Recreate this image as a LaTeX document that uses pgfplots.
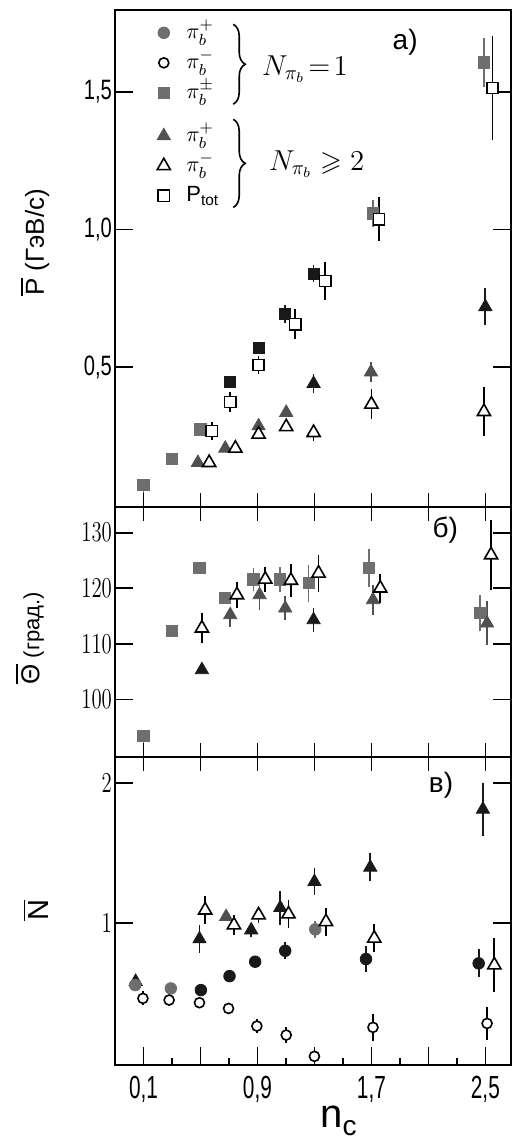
\documentclass[border=0pt]{standalone}
\usepackage{amssymb}
\usepackage{fontspec}
\setmainfont{Liberation Sans}
\usepackage{pgfplots}
\pgfplotsset{compat=1.18}
\usetikzlibrary{decorations.pathreplacing}
\definecolor{gm}{RGB}{110,110,110}
\definecolor{gd}{RGB}{80,80,80}
\definecolor{bk}{RGB}{25,25,25}
\newcommand\ovl[2][1.6pt]{\leavevmode\vbox{\hrule height 0.9pt\kern#1\hbox{#2}}}
\newcommand\fs[1]{\fontsize{#1}{#1}\selectfont}
\pgfplotsset{
  panel/.style={scale only axis, width=198pt, xmin=-0.1, xmax=2.68, clip=false,
    axis line style={line width=0.9pt}, tick style={line width=0.8pt, black},
    tick align=inside, major tick length=9pt, minor tick length=3.5pt,
    ytick pos=both, yticklabel pos=left,
    yticklabel style={font=\fs{14}, xscale=0.72, inner sep=2pt}},
  ghost/.style={scale only axis, width=198pt, height=20pt, xmin=-0.1, xmax=2.68, ymin=0, ymax=1,
    ytick=\empty, xtick={0.1,0.5,0.9,1.3,1.7,2.1,2.5}, xticklabels={}, xtick pos=bottom,
    tick align=center, major tick length=14pt, axis line style={draw=none},
    tick style={line width=0.8pt, black}},
  eb/.style={error bars/y dir=both, error bars/y explicit, error bars/error mark=none,
    error bars/error bar style={line width=0.9pt, solid}},
  sqG/.style={only marks, mark=square*, mark size=2.8pt, color=gm, forget plot, eb},
  sqB/.style={only marks, mark=square*, mark size=2.8pt, color=bk, forget plot, eb},
  sqO/.style={only marks, mark=square*, mark size=2.8pt, color=black, mark options={fill=white, line width=0.8pt}, forget plot, eb},
  trG/.style={only marks, mark=triangle*, mark size=3.8pt, color=gd, forget plot, eb},
  trB/.style={only marks, mark=triangle*, mark size=3.8pt, color=bk, forget plot, eb},
  trO/.style={only marks, mark=triangle*, mark size=3.8pt, color=black, mark options={fill=white, line width=0.8pt}, forget plot, eb},
  ciG/.style={only marks, mark=*, mark size=2.9pt, color=gm, forget plot, eb},
  ciB/.style={only marks, mark=*, mark size=2.9pt, color=bk, forget plot, eb},
  ciO/.style={only marks, mark=*, mark size=2.5pt, color=black, mark options={fill=white, line width=0.8pt}, forget plot, eb},
}
\begin{document}
\begin{tikzpicture}
% ---------------- panel a ----------------
\begin{axis}[panel, name=a, at={(0,0)}, anchor=north west, height=248.5pt,
  ymin=-0.008, ymax=1.797, ytick={0.5,1,1.5}, yticklabels={{0,5},{1,0},{1,5}}, xtick=\empty,
  legend cell align=left,
  legend style={at={(axis cs:0.12,1.77)}, anchor=north west, draw=none, fill=none,
    inner sep=0pt, row sep=0pt, font=\fs{11},
    nodes={inner sep=1pt, text height=9.5pt, text depth=3.5pt},
    /tikz/every odd column/.append style={column sep=7pt}}]
\addlegendimage{only marks, mark=*, mark size=2.9pt, gm}
\addlegendentry{$\pi^{+}_{b}$}
\addlegendimage{only marks, mark=*, mark size=2.5pt, black, mark options={fill=white, line width=0.8pt}}
\addlegendentry{$\pi^{-}_{b}$}
\addlegendimage{only marks, mark=square*, mark size=2.8pt, gm}
\addlegendentry{$\pi^{\pm}_{b}$}
\addlegendimage{empty legend}
\addlegendentry[text height=4.5pt, text depth=0pt]{}
\addlegendimage{only marks, mark=triangle*, mark size=3.8pt, gd}
\addlegendentry{$\pi^{+}_{b}$}
\addlegendimage{only marks, mark=triangle*, mark size=3.8pt, black, mark options={fill=white, line width=0.8pt}}
\addlegendentry{$\pi^{-}_{b}$}
\addlegendimage{only marks, mark=square*, mark size=2.8pt, black, mark options={fill=white, line width=0.8pt}}
\addlegendentry{P$_{\mathrm{tot}}$}

\addplot[sqG] coordinates {(0.1,0.072) += (0,0) -= (0,0.12) (0.3,0.168) +- (0,0) (0.5,0.274) +- (0,0)
  (1.71,1.058) +- (0,0.05) (2.488,1.607) +- (0,0.09)};
\addplot[sqB] coordinates {(0.709,0.447) +- (0,0) (0.908,0.571) +- (0,0.02) (1.095,0.692) +- (0,0.033) (1.294,0.84) +- (0,0.03)};
\addplot[trG] coordinates {(0.482,0.153) +- (0,0) (0.674,0.205) +- (0,0) (0.908,0.286) +- (0,0) (1.102,0.335) +- (0,0) (1.697,0.482) +- (0,0.036)};
\addplot[trB] coordinates {(1.294,0.44) +- (0,0.035) (2.5,0.719) +- (0,0.067)};
\addplot[trO] coordinates {(0.561,0.153) +- (0,0) (0.745,0.205) +- (0,0) (0.908,0.256) +- (0,0) (1.102,0.283) +- (0,0)
  (1.294,0.262) +- (0,0.03) (1.70,0.365) +- (0,0.055) (2.49,0.338) +- (0,0.088)};
\addplot[sqO] coordinates {(0.58,0.268) +- (0,0.033) (0.709,0.373) +- (0,0.036) (0.908,0.508) +- (0,0.033)
  (1.165,0.656) +- (0,0.055) (1.376,0.813) +- (0,0.07) (1.753,1.037) +- (0,0.08) (2.55,1.514) +- (0,0.19)};

\draw[decorate, decoration={brace, amplitude=6pt}, line width=0.8pt] (axis cs:0.73,1.745) -- (axis cs:0.73,1.455);
\draw[decorate, decoration={brace, amplitude=6pt}, line width=0.8pt] (axis cs:0.73,1.40) -- (axis cs:0.73,1.08);
\node[anchor=west, font=\fs{14}] at (axis cs:0.884,1.582) {$N_{\pi_b}\!=\!1$};
\node[anchor=west, font=\fs{14}] at (axis cs:0.933,1.236) {$N_{\pi_b}\geqslant 2$};
\node[font=\fs{14}] at (axis cs:1.937,1.68) {а)};
\node[rotate=90, font=\fs{13}] at (axis cs:-0.66,0.953) {\ovl{P} (ГэВ/с)};
\end{axis}
% ---------------- panel b ----------------
\begin{axis}[panel, name=b, at={(a.south west)}, anchor=north west, height=125pt,
  ymin=89.61, ymax=134.63, ytick={100,110,120,130}, xtick=\empty]
\addplot[sqG] coordinates {(0.1,93.4) += (0,0) -= (0,6) (0.3,112.3) +- (0,0) (0.493,123.7) +- (0,0) (0.669,118.3) +- (0,0)
  (0.872,121.6) +- (0,2.1) (1.06,121.6) +- (0,2.2) (1.259,120.9) +- (0,3.3) (1.685,123.6) +- (0,3.4) (2.465,115.5) +- (0,3.2)};
\addplot[trG] coordinates {(0.709,115.2) += (0,1) -= (0,2.2) (0.915,118.8) +- (0,2.7) (1.095,116.4) +- (0,2.2)
  (1.711,117.9) +- (0,2.7) (2.512,113.7) +- (0,4)};
\addplot[trB] coordinates {(0.51,105.3) +- (0,0) (1.294,114.3) +- (0,2.2)};
\addplot[trO] coordinates {(0.51,112.8) +- (0,2.7) (0.756,118.8) +- (0,2.4) (0.955,121.6) +- (0,2.2) (1.135,121.4) +- (0,3)
  (1.329,122.7) +- (0,3.3) (1.762,120) +- (0,2.6) (2.54,126) +- (0,6.3)};
\node[font=\fs{14}] at (axis cs:2.219,130.5) {б)};
\node[rotate=90] at (axis cs:-0.697,111.0) {\ovl{\fs{13}Θ}\fs{11} (град.)};
\end{axis}
% ---------------- panel c ----------------
\begin{axis}[panel, name=c, at={(b.south west)}, anchor=north west, height=154pt,
  ymin=-0.016, ymax=2.184, ytick={1,2},
  xtick={0.1,0.5,0.9,1.3,1.7,2.1,2.5}, xticklabels={{0,1},{},{0,9},{},{1,7},{},{2,5}},
  minor xtick={0.3,0.7,1.1,1.5,1.9,2.3}, xtick pos=bottom,
  xticklabel style={font=\fs{16}, xscale=0.65, yshift=-2pt}]
\addplot[trB] coordinates {(0.045,0.58) += (0,0.03) -= (0,0) (0.493,0.884) +- (0,0.1) (0.856,0.948) +- (0,0.05) (1.06,1.107) +- (0,0.12)
  (1.30,1.293) +- (0,0.095) (1.692,1.396) +- (0,0.1) (2.483,1.81) +- (0,0.19)};
\addplot[trG] coordinates {(0.68,1.043) +- (0,0)};
\addplot[ciG] coordinates {(0.042,0.555) +- (0,0) (0.292,0.531) +- (0,0) (1.306,0.953) +- (0,0.06)};
\addplot[ciB] coordinates {(0.503,0.519) +- (0,0) (0.704,0.619) +- (0,0) (0.884,0.722) +- (0,0) (1.095,0.8) +- (0,0.06)
  (1.662,0.741) +- (0,0.095) (2.453,0.71) +- (0,0.1)};
\addplot[trO] coordinates {(0.533,1.09) +- (0,0.1) (0.735,0.984) +- (0,0.07) (0.908,1.055) +- (0,0.06) (1.118,1.062) +- (0,0.1)
  (1.381,1.007) +- (0,0.1) (1.72,0.889) +- (0,0.1) (2.563,0.698) +- (0,0.19)};
\addplot[ciO] coordinates {(0.096,0.46) +- (0,0.05) (0.28,0.448) +- (0,0) (0.493,0.429) +- (0,0) (0.697,0.388) +- (0,0)
  (0.896,0.262) +- (0,0.05) (1.102,0.198) +- (0,0.06) (1.3,0.046) +- (0,0) (1.711,0.253) +- (0,0.095) (2.512,0.281) +- (0,0.12)};
\node[font=\fs{14}] at (axis cs:2.189,1.984) {в)};
\node[rotate=90, font=\fs{14.5}] at (axis cs:-0.654,1.091) {\ovl{N}};
\node[anchor=base west] at (axis cs:1.292,-0.459) {\fs{20}n\raisebox{-4pt}{\fs{14}c}};
\end{axis}
% ghost axes for crossing x ticks
\begin{axis}[ghost, at={(a.south west)}, anchor=south west]
\end{axis}
\begin{axis}[ghost, at={(b.south west)}, anchor=south west]
\end{axis}
\pgfresetboundingbox
\path[use as bounding box] ([xshift=-57.5pt,yshift=5pt]a.north west) rectangle ([xshift=198pt,yshift=-564pt]a.north west);
\end{tikzpicture}
\end{document}
